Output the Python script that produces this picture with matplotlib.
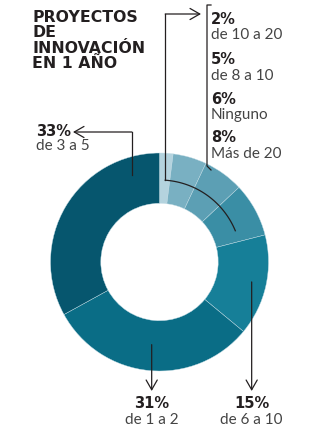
import matplotlib

matplotlib.use("Agg")
import matplotlib.pyplot as plt
import numpy as np

W, H = 333, 435

# Share of companies by number of innovation projects per year
shares = [2, 5, 6, 8, 15, 31, 33]
pct_labels = ["2%", "5%", "6%", "8%", "15%", "31%", "33%"]
ranges = ["de 10 a 20", "de 8 a 10", "Ninguno", "Más de 20", "de 6 a 10", "de 1 a 2", "de 3 a 5"]
colors = ["#b4d3de", "#79b0c2", "#5c9fb4", "#3a8ea5", "#167f98", "#0a6d86", "#06566e"]
title_lines = ["PROYECTOS", "DE", "INNOVACIÓN", "EN 1 AÑO"]

INK = "#231f20"
TEXT = "#444444"
CX, CY = 159.5, 263.0
R_OUT, R_IN = 109.0, 58.7


def py(y):
    """Pixel row (top-down) to data y."""
    return H - y


def polar(angle, r):
    a = np.deg2rad(angle)
    return CX + r * np.cos(a), py(CY) + r * np.sin(a)


fig = plt.figure(figsize=(W / 100, H / 100), dpi=100)
ax = fig.add_axes([0, 0, 1, 1])

ax.pie(
    shares,
    colors=colors,
    startangle=90,
    counterclock=False,
    center=(CX, py(CY)),
    radius=R_OUT,
    wedgeprops={"width": R_OUT - R_IN, "linewidth": 0.3, "edgecolor": "#c4dde6"},
)
ax.set_xlim(0, W)
ax.set_ylim(0, H)
ax.set_aspect("equal")
ax.axis("off")

# wedge boundaries (degrees, clockwise from 12 o'clock)
edges = 90 - 3.6 * np.concatenate([[0], np.cumsum(shares)])

# title
for i, line in enumerate(title_lines):
    ax.text(32, py(17 + 15.6 * i), line, fontsize=11.3, fontweight="bold",
            family="DejaVu Sans", color=INK, va="center", ha="left")

line_kw = {"color": INK, "lw": 0.9}
arrow_kw = {"arrowstyle": "->,head_length=0.7,head_width=0.4", "color": INK, "lw": 0.9,
            "shrinkA": 0, "shrinkB": 0}
pct_kw = {"fontsize": 10.5, "fontweight": "bold", "family": "DejaVu Sans", "color": INK,
          "va": "center"}
sub_kw = {"fontsize": 11, "fontweight": "normal", "family": "Lato", "color": TEXT,
          "va": "center"}

# bracket for the four small slices: arc inside the ring, up, then right
arc_r = 82
arc_a = np.linspace(86, edges[4] + 8, 60)
ax.plot(*polar(arc_a, arc_r), **line_kw)
x0, y0 = polar(86, arc_r)
ax.plot([x0, x0], [y0, py(15)], **line_kw)
ax.annotate("", xy=(201, py(15)), xytext=(x0, py(15)), arrowprops=arrow_kw)
ax.plot([211, 207, 207, 211], [py(6), py(6), py(167), py(171)], **line_kw)

for i, (yp, yr) in enumerate([(19, 35), (59, 76), (99, 115), (138, 154)]):
    ax.text(211, py(yp), pct_labels[i], ha="left", **pct_kw)
    ax.text(211, py(yr), ranges[i], ha="left", **sub_kw)

# 33%: up from the wedge, then left
xa, ya = polar(107.7, 91)
ax.plot([xa, xa], [ya, py(133)], **line_kw)
ax.annotate("", xy=(73, py(133)), xytext=(xa, py(133)), arrowprops=arrow_kw)
ax.text(36, py(131), pct_labels[6], ha="left", **pct_kw)
ax.text(36, py(146), ranges[6], ha="left", **sub_kw)

# 31% and 15%: straight down from the wedge
for idx, ang, r in [(5, -95.4, 83), (4, -12.2, 94.3)]:
    xs, ys = polar(ang, r)
    ax.annotate("", xy=(xs, py(392)), xytext=(xs, ys), arrowprops=arrow_kw)
    ax.text(xs, py(404), pct_labels[idx], ha="center", **pct_kw)
    ax.text(xs, py(420), ranges[idx], ha="center", **sub_kw)

fig.savefig("out.png", dpi=100)
